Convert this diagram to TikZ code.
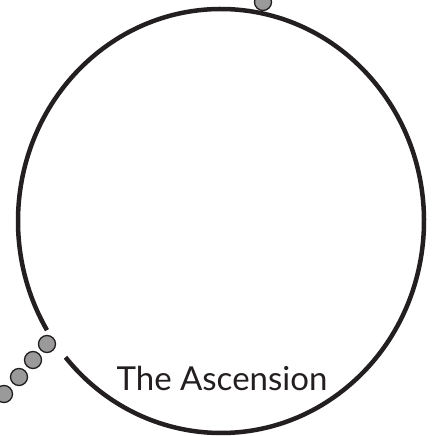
\documentclass[tikz,border=0pt]{standalone}
\usepackage{fontspec}
\setmainfont{Lato}
\usepackage{tikz}
\definecolor{beadgray}{HTML}{9A9A9A}
\definecolor{ink}{HTML}{231F20}

\begin{document}
\begin{tikzpicture}[x=1pt,y=1pt,
  bead/.style={circle,draw=ink,line width=1.3pt,fill=beadgray,minimum size=17pt,inner sep=0pt},
  ring/.style={draw=ink,line width=4.5pt}]
  \clip (0,0) rectangle (435,436);
  \fill[white] (0,0) rectangle (435,436);
  % the big loop, open at lower left
  \coordinate (centre) at (221,215);
  \draw[ring] (centre) ++(220:203 and 212) arc[start angle=220,end angle=571,x radius=203,y radius=212];
  % beads
  \node[bead] (top) at (263,434) {};
  \foreach \i/\x/\y in {1/47/92,2/33/76,3/19/59,4/4/42}
    \node[bead] (b\i) at (\x,\y) {};
  \node[font=\fontsize{33}{38}\selectfont,text=ink,anchor=base] (title) at (222,45) {The Ascension};
\end{tikzpicture}
\end{document}
